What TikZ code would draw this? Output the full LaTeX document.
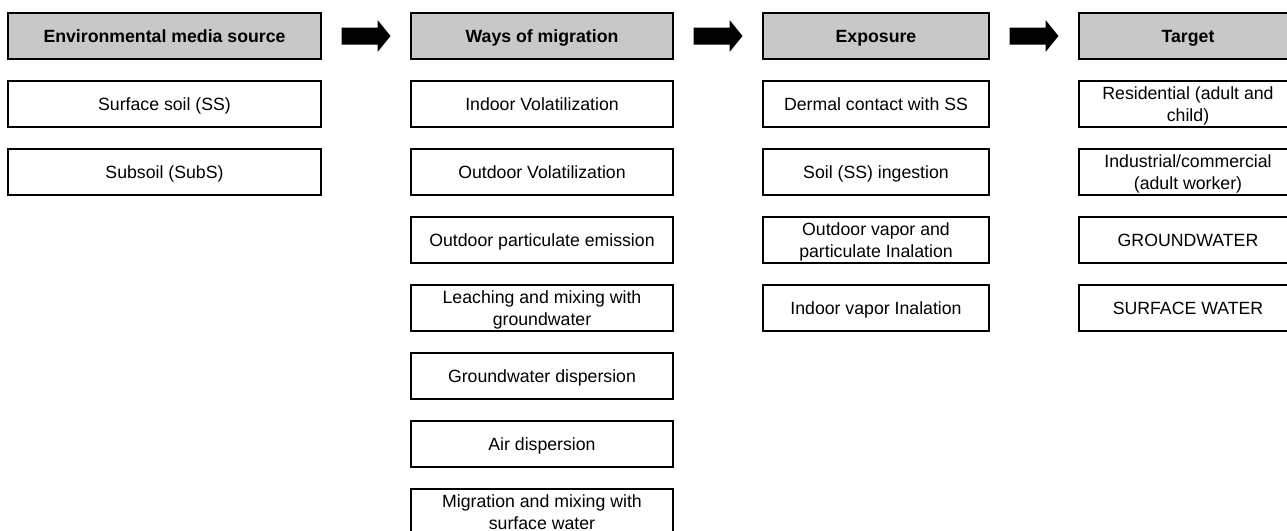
\documentclass[tikz,border=0pt]{standalone}
\usepackage{fontspec}
\setmainfont{Liberation Sans}
\usetikzlibrary{calc}
\definecolor{hdrgray}{RGB}{200,200,200}
\newcommand{\tstrut}{\rule[-4.4pt]{0pt}{21.8pt}}
\tikzset{
  box/.style={draw=black, line width=1.8pt, fill=white, minimum height=46pt,
    inner sep=0pt, align=center, font=\fontsize{17.7}{21.8}\selectfont},
  hdrbox/.style={box, fill=hdrgray, font=\fontsize{17.7}{21.8}\selectfont\bfseries},
  wa/.style={minimum width=313pt},
  wb/.style={minimum width=262pt},
  wc/.style={minimum width=226pt},
  wd/.style={minimum width=218pt},
  blockarrow/.style={fill=black}
}
\begin{document}
\begin{tikzpicture}[x=1pt,y=-1pt]
\useasboundingbox (0,0) rectangle (1287,530);
\fill[white] (0,0) rectangle (1287,530);
\clip (0,0) rectangle (1287,530);
% column 1
\node[hdrbox,wa] (h1) at (164.5,36) {\tstrut Environmental media source};
\node[box,wa] (a1) at (164.5,104) {\tstrut Surface soil (SS)};
\node[box,wa] (a2) at (164.5,172) {\tstrut Subsoil (SubS)};
% column 2
\node[hdrbox,wb] (h2) at (542,36) {\tstrut Ways of migration};
\node[box,wb] (b1) at (542,104) {\tstrut Indoor Volatilization};
\node[box,wb] (b2) at (542,172) {\tstrut Outdoor Volatilization};
\node[box,wb] (b3) at (542,240) {\tstrut Outdoor particulate emission};
\node[box,wb] (b4) at (542,308) {\tstrut Leaching and mixing with\\\tstrut groundwater};
\node[box,wb] (b5) at (542,376) {\tstrut Groundwater dispersion};
\node[box,wb] (b6) at (542,444) {\tstrut Air dispersion};
\node[box,wb] (b7) at (542,512) {\tstrut Migration and mixing with\\\tstrut surface water};
% column 3
\node[hdrbox,wc] (h3) at (876,36) {\tstrut Exposure};
\node[box,wc] (c1) at (876,104) {\tstrut Dermal contact with SS};
\node[box,wc] (c2) at (876,172) {\tstrut Soil (SS) ingestion};
\node[box,wc] (c3) at (876,240) {\tstrut Outdoor vapor and\\\tstrut particulate Inalation};
\node[box,wc] (c4) at (876,308) {\tstrut Indoor vapor Inalation};
% column 4
\node[hdrbox,wd] (h4) at (1188,36) {\tstrut Target};
\node[box,wd] (d1) at (1188,104) {\tstrut Residential (adult and\\\tstrut child)};
\node[box,wd] (d2) at (1188,172) {\tstrut Industrial/commercial\\\tstrut (adult worker)};
\node[box,wd] (d3) at (1188,240) {\tstrut GROUNDWATER};
\node[box,wd] (d4) at (1188,308) {\tstrut SURFACE WATER};
% block arrows between headers
\coordinate (m1) at ($(h1.east)!0.5!(h2.west)$);
\coordinate (m2) at ($(h2.east)!0.5!(h3.west)$);
\coordinate (m3) at ($(h3.east)!0.5!(h4.west)$);
\foreach \m in {m1,m2,m3}{
  \fill[blockarrow,shift={(\m)}] (-24.5,-8.5) -- (11.5,-8.5) -- (11.5,-16)
    -- (24.5,0) -- (11.5,16) -- (11.5,8.5) -- (-24.5,8.5) -- cycle;
}
\end{tikzpicture}
\end{document}
